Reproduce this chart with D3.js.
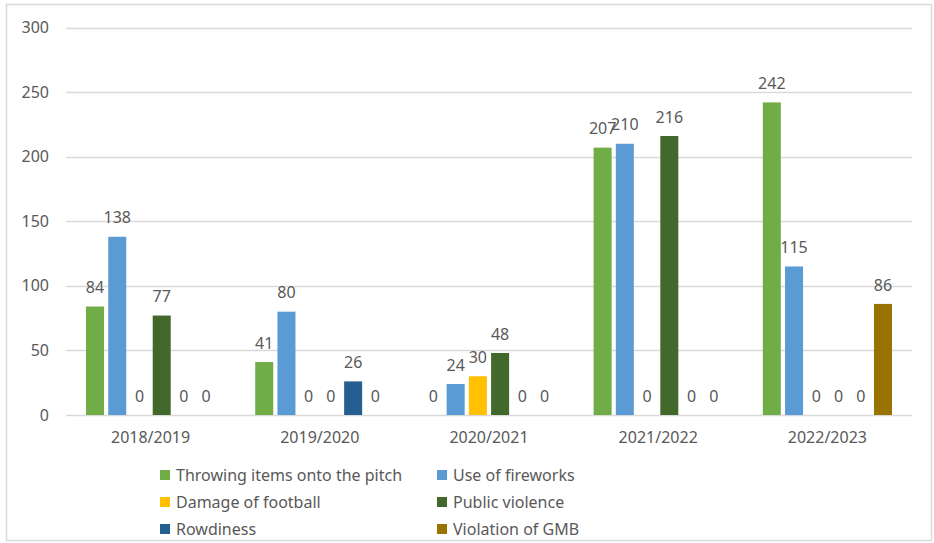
<!DOCTYPE html>
<html>
<head>
<meta charset="utf-8">
<script src="https://cdn.jsdelivr.net/npm/d3@7"></script>
<style>
    body { margin: 0; background: #fff; }
    svg text { font-family: "Noto Sans", "Open Sans", sans-serif; fill: #595959; }
</style>
</head>
<body>
<div class="chart"></div>
<script>
var seasons = ["2018/2019", "2019/2020", "2020/2021", "2021/2022", "2022/2023"];
var seriesNames = [
    "Throwing items onto the pitch",
    "Use of fireworks",
    "Damage of football",
    "Public violence",
    "Rowdiness",
    "Violation of GMB"
];
var seriesColors = ["#70ad47", "#5b9bd5", "#ffc000", "#43682b", "#255e91", "#997300"];

var throwingItems = [84, 41, 0, 207, 242];
var fireworks = [138, 80, 24, 210, 115];
var damageOfFootball = [0, 0, 30, 0, 0];
var publicViolence = [77, 0, 48, 216, 0];
var rowdiness = [0, 26, 0, 0, 0];
var violationGMB = [0, 0, 0, 0, 86];

var yTicks = [0, 50, 100, 150, 200, 250, 300];

var seriesValues = [throwingItems, fireworks, damageOfFootball, publicViolence, rowdiness, violationGMB];

var width = 934;
var height = 543;

var svg = d3.select(".chart")
            .append("svg")
            .attr("width", width)
            .attr("height", height);

// outer chart border
svg.append("rect")
    .attr("x", 6.5)
    .attr("y", 4.5)
    .attr("width", 925)
    .attr("height", 536)
    .attr("fill", "none")
    .attr("stroke", "#d9d9d9")
    .attr("stroke-width", 1.5);

var plot = { left: 66, right: 912, top: 27.5, bottom: 415 };

var x0 = d3.scaleBand()
            .domain(seasons)
            .range([plot.left, plot.right]);

var x1 = d3.scaleBand()
            .domain(d3.range(seriesNames.length))
            .range([0, x0.bandwidth()])
            .paddingInner(0.19)
            .paddingOuter(0.9);

var y = d3.scaleLinear()
            .domain([0, 300])
            .range([plot.bottom, plot.top]);

// gridlines
svg.append("g")
    .selectAll("line")
    .data(yTicks)
    .enter().append("line")
    .attr("x1", plot.left)
    .attr("x2", plot.right)
    .attr("y1", function(d) { return Math.round(y(d)) + 0.5; })
    .attr("y2", function(d) { return Math.round(y(d)) + 0.5; })
    .attr("stroke", "#d9d9d9")
    .attr("stroke-width", 1.3);

// y axis labels
svg.append("g")
    .selectAll("text")
    .data(yTicks)
    .enter().append("text")
    .attr("x", 49)
    .attr("y", function(d) { return y(d); })
    .attr("dy", "0.35em")
    .attr("text-anchor", "end")
    .style("font-size", "16px")
    .text(function(d) { return d; });

// category labels
svg.append("g")
    .selectAll("text")
    .data(seasons)
    .enter().append("text")
    .attr("x", function(d) { return x0(d) + x0.bandwidth() / 2; })
    .attr("y", 437)
    .attr("dy", "0.35em")
    .attr("text-anchor", "middle")
    .style("font-size", "16px")
    .text(function(d) { return d; });

var cells = [];
for (var i = 0; i < seasons.length; i++) {
    for (var j = 0; j < seriesNames.length; j++) {
        cells.push({ season: seasons[i], s: j, value: seriesValues[j][i] });
    }
}

svg.append("g")
    .selectAll("rect")
    .data(cells.filter(function(d) { return d.value > 0; }))
    .enter().append("rect")
    .attr("x", function(d) { return x0(d.season) + x1(d.s); })
    .attr("y", function(d) { return y(d.value); })
    .attr("width", x1.bandwidth())
    .attr("height", function(d) { return y(0) - y(d.value); })
    .attr("fill", function(d) { return seriesColors[d.s]; });

// value labels
svg.append("g")
    .selectAll("text")
    .data(cells)
    .enter().append("text")
    .attr("x", function(d) { return x0(d.season) + x1(d.s) + x1.bandwidth() / 2; })
    .attr("y", function(d) { return y(d.value) - 19; })
    .attr("dy", "0.35em")
    .attr("text-anchor", "middle")
    .style("font-size", "16px")
    .text(function(d) { return d.value; });

// legend
var legend = svg.append("g")
    .selectAll("g")
    .data(seriesNames)
    .enter().append("g")
    .attr("transform", function(d, i) {
        return "translate(" + (i % 2 === 0 ? 160 : 437) + "," + (475 + Math.floor(i / 2) * 27) + ")";
    });

legend.append("rect")
    .attr("x", 0)
    .attr("y", -5)
    .attr("width", 10)
    .attr("height", 10)
    .attr("fill", function(d, i) { return seriesColors[i]; });

legend.append("text")
    .attr("x", 16)
    .attr("y", 0)
    .attr("dy", "0.35em")
    .style("font-size", "16px")
    .text(function(d) { return d; });
</script>
</body>
</html>
